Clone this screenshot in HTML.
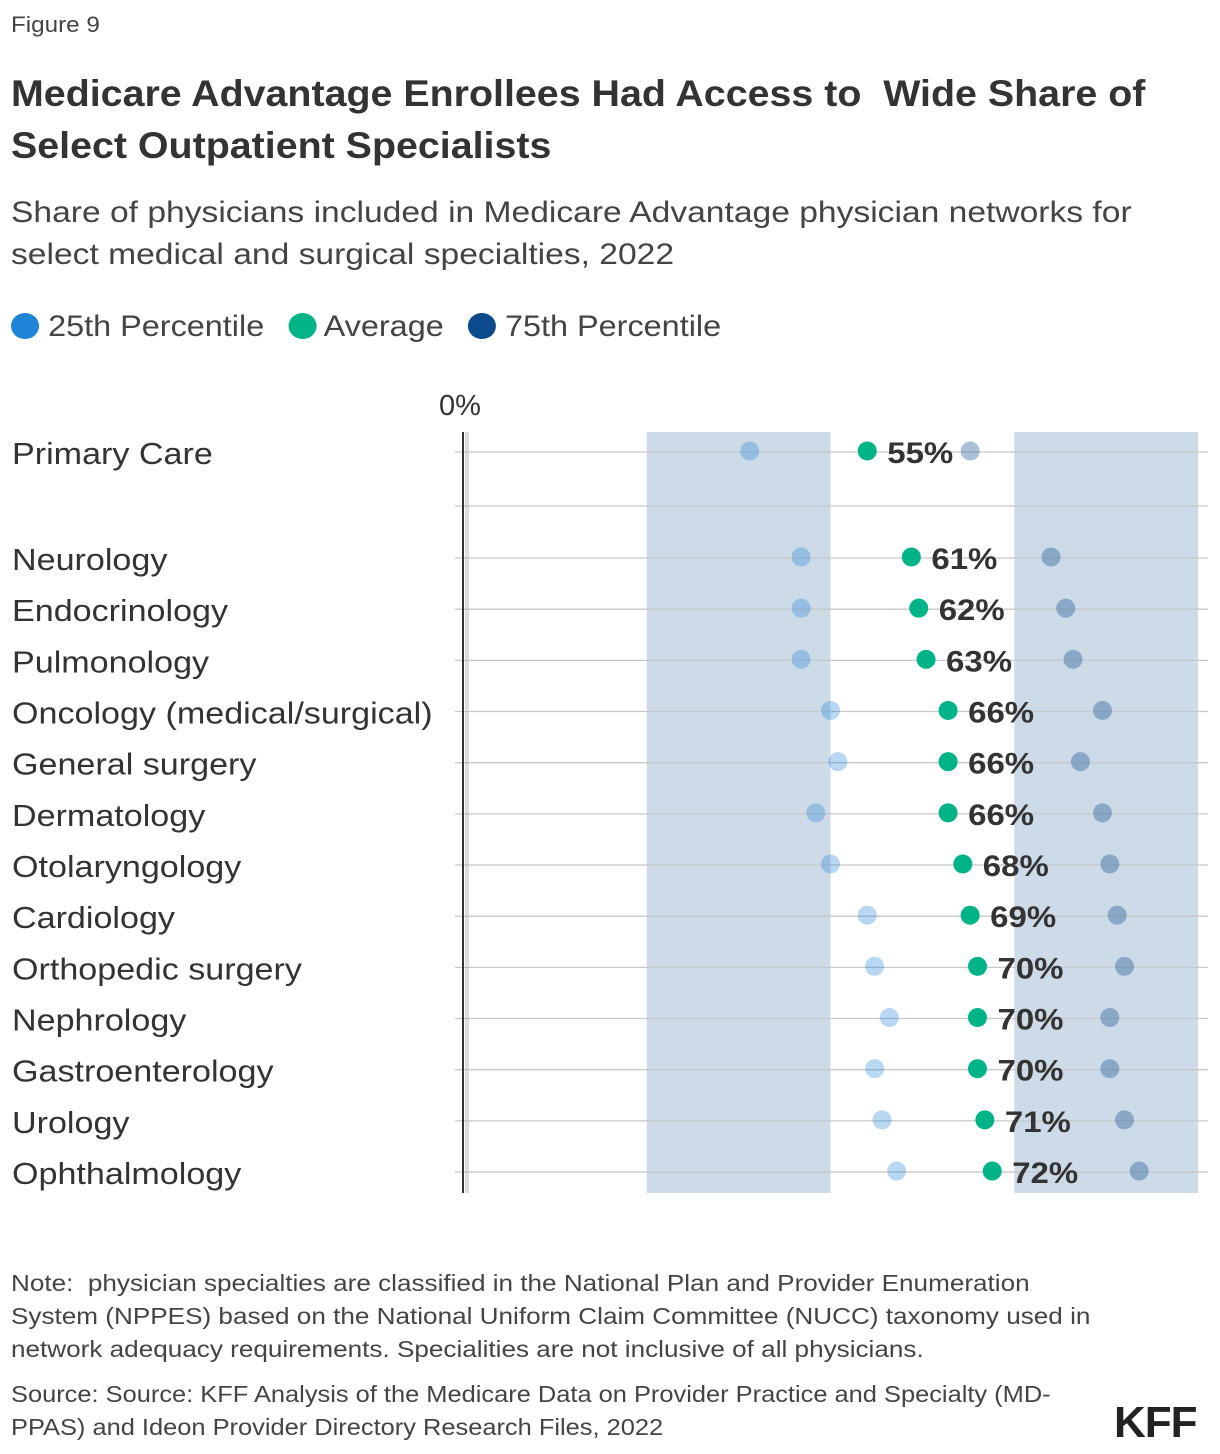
<!DOCTYPE html>
<html><head><meta charset="utf-8"><style>
body{margin:0;background:#fff;font-family:"Liberation Sans",sans-serif;color:#333;}
#wrap{position:relative;width:1220px;height:1454px;overflow:hidden;}
.t{position:absolute;white-space:nowrap;transform-origin:0 0;}
</style></head><body>
<div id="wrap">
<div class="t" style="left:11px;top:12px;font-size:22px;color:#444;transform:scaleX(1.1);">Figure 9</div>
<div class="t" style="left:11px;top:68px;font-size:37px;font-weight:bold;line-height:52px;color:#333;transform:scaleX(1.064);">Medicare Advantage Enrollees Had Access to&nbsp; Wide Share of<br>Select Outpatient Specialists</div>
<div class="t" style="left:11px;top:192px;font-size:30px;line-height:42px;color:#444;transform:scaleX(1.12);">Share of physicians included in Medicare Advantage physician networks for<br>select medical and surgical specialties, 2022</div>
<div class="t" style="left:11px;top:310px;font-size:30px;color:#444;transform:scaleX(1.08);">
<span><span style="display:inline-block;width:26px;height:26px;border-radius:50%;background:#1f84d6;vertical-align:-3px;"></span> 25th Percentile</span>
<span style="margin-left:14px;"><span style="display:inline-block;width:26px;height:26px;border-radius:50%;background:#00b487;vertical-align:-3px;"></span> Average</span>
<span style="margin-left:14px;"><span style="display:inline-block;width:26px;height:26px;border-radius:50%;background:#0b4a8b;vertical-align:-3px;"></span> 75th Percentile</span>
</div>
<svg id="chart" width="1220" height="1454" style="position:absolute;left:0;top:0;"></svg>
<div class="t" style="left:11px;top:1267px;font-size:23px;line-height:33px;color:#444;transform:scaleX(1.135);">Note:&nbsp; physician specialties are classified in the National Plan and Provider Enumeration<br>System (NPPES) based on the National Uniform Claim Committee (NUCC) taxonomy used in<br>network adequacy requirements. Specialities are not inclusive of all physicians.</div>
<div class="t" style="left:11px;top:1378px;font-size:23px;line-height:33px;color:#444;transform:scaleX(1.105);">Source: Source: KFF Analysis of the Medicare Data on Provider Practice and Specialty (MD-<br>PPAS) and Ideon Provider Directory Research Files, 2022</div>
<div class="t" style="left:1114px;top:1398px;font-size:44px;font-weight:bold;color:#222;letter-spacing:-1px;">KFF</div>
</div>
<script>
const categories=["Primary Care","","Neurology","Endocrinology","Pulmonology","Oncology (medical/surgical)","General surgery","Dermatology","Otolaryngology","Cardiology","Orthopedic surgery","Nephrology","Gastroenterology","Urology","Ophthalmology"];
const p25=[39,null,46,46,46,50,51,48,50,55,56,58,56,57,59];
const avg=[55,null,61,62,63,66,66,66,68,69,70,70,70,71,72];
const p75=[69,null,80,82,83,87,84,87,88,89,90,88,88,90,92];
const bands=[[25,50],[75,100]];
const NS="http://www.w3.org/2000/svg";
const svg=document.getElementById('chart');
const x=v=>463+v*7.35;
const y=i=>i===0?452:(i===1?506:558+(i-2)*51.17);
function mk(tag,attrs){const e=document.createElementNS(NS,tag);for(const k in attrs)e.setAttribute(k,attrs[k]);svg.appendChild(e);return e;}
bands.forEach((b,i)=>{const r=mk('rect',{x:x(b[0]),y:432,width:x(b[1])-x(b[0]),height:761,fill:'#cddbe8'});

});
categories.forEach((c,i)=>{const l=mk('line',{x1:455,x2:1208,y1:y(i),y2:y(i),stroke:'#c8c8c8','stroke-width':1.3});


if(c){const t=mk('text',{x:0,y:0,transform:'translate(12,'+(y(i)+12)+') scale(1.1,1)','font-size':31,fill:'#333','font-family':'Liberation Sans, sans-serif'});t.textContent=c;

}});
[463,466,468].forEach((xx,k)=>{const l=mk('line',{x1:xx,x2:xx,y1:432,y2:1193,stroke:k?'#bbb':'#333','stroke-width':k?1:2});

});
const z=mk('text',{x:439,y:415,'font-size':29,fill:'#333','font-family':'Liberation Sans, sans-serif'});z.textContent='0%';


categories.forEach((c,i)=>{if(avg[i]==null)return;
const a=mk('circle',{cx:x(p25[i]),cy:y(i)-1,r:9.5,fill:'#1f84d6','fill-opacity':0.32});


const b=mk('circle',{cx:x(p75[i]),cy:y(i)-1,r:9.5,fill:'#0b4a8b','fill-opacity':0.35});


const d=mk('circle',{cx:x(avg[i]),cy:y(i)-1,r:9.5,fill:'#00b487'});


const t=mk('text',{x:0,y:0,transform:'translate('+(x(avg[i])+20)+','+(y(i)+11)+') scale(1.1,1)','font-size':30,'font-weight':'bold',fill:'#333','font-family':'Liberation Sans, sans-serif'});t.textContent=avg[i]+'%';

});
</script>
</body></html>
